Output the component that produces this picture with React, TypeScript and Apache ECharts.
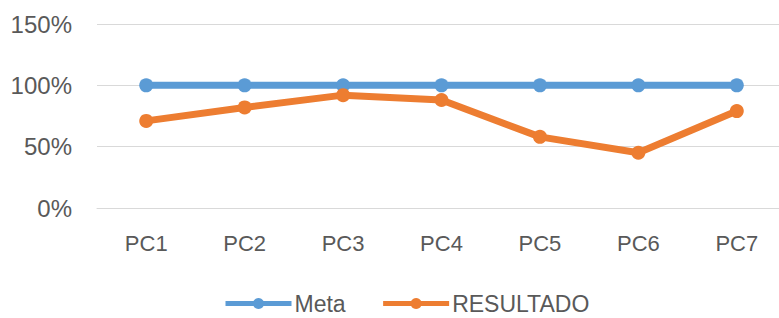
import React, { useEffect, useRef } from "react";
import * as echarts from "echarts";

const categories = ["PC1", "PC2", "PC3", "PC4", "PC5", "PC6", "PC7"];
const metaValues = [100, 100, 100, 100, 100, 100, 100];
const resultadoValues = [71, 82, 92, 88, 58, 45, 79];
const yTicks = { min: 0, max: 150, interval: 50 };

const FONT = "Liberation Sans";
const TEXT = "#595959";

export default function App() {
  const ref = useRef<HTMLDivElement>(null);
  useEffect(() => {
    if (!ref.current) return;
    const chart = echarts.init(ref.current, null, { renderer: "svg" });
    chart.setOption({
      animation: false,
      backgroundColor: "#ffffff",
      grid: { left: 97, right: 0, top: 24, bottom: 110, containLabel: false },
      legend: {
        left: 218,
        top: 287,
        itemWidth: 66,
        itemHeight: 14,
        itemGap: 35,
        lineStyle: { width: 5 },
        textStyle: { fontFamily: FONT, fontSize: 23, color: TEXT, padding: [0, 0, 0, -2] },
        data: ["Meta", "RESULTADO"],
      },
      xAxis: {
        type: "category",
        data: categories,
        boundaryGap: true,
        axisLine: { show: true, lineStyle: { color: "#D9D9D9", width: 1 } },
        axisTick: { show: false },
        axisLabel: { color: TEXT, fontFamily: FONT, fontSize: 22, margin: 24 },
      },
      yAxis: {
        type: "value",
        min: yTicks.min,
        max: yTicks.max,
        interval: yTicks.interval,
        axisLine: { show: false },
        axisTick: { show: false },
        splitLine: { lineStyle: { color: "#D9D9D9", width: 1 } },
        axisLabel: { color: TEXT, fontFamily: FONT, fontSize: 24, margin: 25, formatter: "{value}%" },
      },
      series: [
        {
          name: "Meta",
          type: "line",
          data: metaValues,
          symbol: "circle",
          symbolSize: 14,
          itemStyle: { color: "#5B9BD5" },
          lineStyle: { color: "#5B9BD5", width: 7 },
        },
        {
          name: "RESULTADO",
          type: "line",
          data: resultadoValues,
          symbol: "circle",
          symbolSize: 14,
          itemStyle: { color: "#ED7D31" },
          lineStyle: { color: "#ED7D31", width: 7 },
        },
      ],
    });
    return () => chart.dispose();
  }, []);
  return (
    <div
      ref={ref}
      style={{ position: "fixed", left: 0, top: 0, width: 786, height: 318 }}
    />
  );
}
